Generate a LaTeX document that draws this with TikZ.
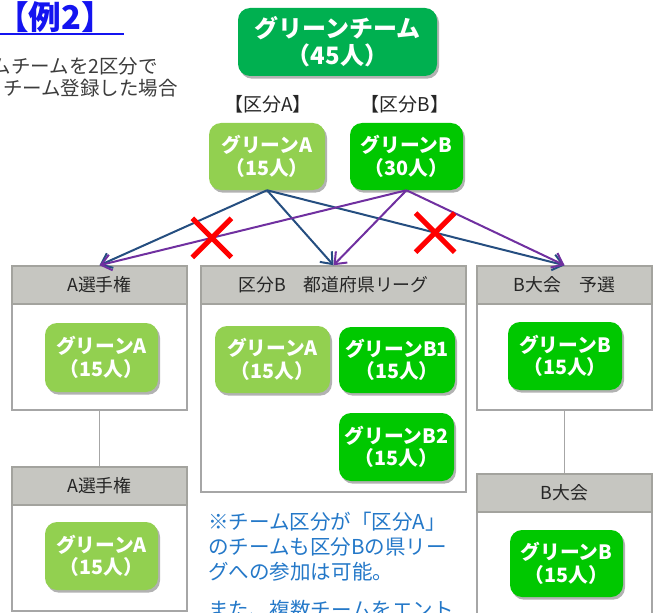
\documentclass[tikz,border=0pt]{standalone}
\usepackage{fontspec}
\setmainfont{Noto Sans CJK JP}
\usetikzlibrary{arrows.meta,shadows,shapes.misc}
\definecolor{gTeam}{HTML}{00B050}
\definecolor{gAc}{HTML}{92D050}
\definecolor{gBc}{HTML}{00C800}
\definecolor{lnBlue}{HTML}{254E80}
\definecolor{lnPurple}{HTML}{7030A0}
\definecolor{hdrFill}{HTML}{C6C6C1}
\definecolor{hdrDraw}{HTML}{A3A39E}
\definecolor{boxDraw}{HTML}{A6A6A6}
\definecolor{noteBlue}{HTML}{2478C8}
\definecolor{titleBlue}{HTML}{1414F0}
\definecolor{txtDark}{HTML}{262626}
\newcommand\fs[2]{\fontsize{#1}{#2}\selectfont}
\begin{document}
\begin{tikzpicture}[x=0.75pt,y=-0.75pt,
  sz/.style 2 args={minimum width=#1*0.75pt,minimum height=#2*0.75pt},
  grn/.style={rounded corners=9pt, text=white, font=\fs{14.8pt}{16.9pt}\bfseries, align=center, inner sep=0pt,
    drop shadow={shadow xshift=1.5pt,shadow yshift=-2pt,opacity=0.3,fill=black}, sz={114}{68}},
  grnA/.style={grn, fill=gAc},
  grnB/.style={grn, fill=gBc},
  hdr/.style={draw=hdrDraw, fill=hdrFill, line width=1.1pt, text=txtDark, font=\fs{13.4pt}{15pt}, inner sep=0pt, sz={175}{38}},
  bodybox/.style={draw=boxDraw, fill=white, line width=1.1pt, inner sep=0pt},
  arrA/.style={draw=lnBlue, line width=1.5pt, -{Straight Barb[length=7.5pt,width=12pt]}},
  arrB/.style={draw=lnPurple, line width=1.5pt, -{Straight Barb[length=7.5pt,width=12pt]}},
  xmark/.style={cross out, draw=red, line width=3.8pt, sz={34}{34}, inner sep=0pt},
  link/.style={draw=boxDraw, line width=1.1pt},
  lbl/.style={text=txtDark, font=\fs{14.25pt}{16pt}, inner sep=0pt},
  bodytxt/.style={text=txtDark!90!white, font=\fs{14.6pt}{16pt}, inner sep=0pt, anchor=base east},
  note/.style={text=noteBlue, font=\fs{15.4pt}{18pt}, inner sep=0pt, anchor=base west}
]
\useasboundingbox (0,0) rectangle (660,613);
\clip (0,0) rectangle (660,613);

% title
\node[anchor=base west, inner sep=0pt, text=titleBlue, font=\fs{24.5pt}{26pt}\bfseries] (title) at (-4,30) {【例2】};
\coordinate (ul1) at (0,34);
\coordinate (ul2) at (124,34);
\draw[titleBlue, line width=1.5pt] (ul1) -- (ul2);
\node[bodytxt] (intro1) at (158,73.5) {ムチームを2区分で};
\node[bodytxt] (intro2) at (178,95.5) {チーム登録した場合};

% top team
\node[grn, fill=gTeam, sz={199}{68}, font=\fs{18pt}{20.25pt}\bfseries] (team) at (337.5,42) {グリーンチーム\\（45人）};
\node[lbl] (labA) at (268,104.5) {【区分A】};
\node[lbl] (labB) at (405,104.5) {【区分B】};
\node[grnA, sz={116}{67}] (gA) at (267,156.5) {グリーンA\\（15人）};
\node[grnB, sz={113}{67}] (gB) at (406.5,156.5) {グリーンB\\（30人）};

% column A
\node[bodybox, sz={175}{106}] (bA1) at (99.5,357) {};
\node[hdr] (hA1) at (99.5,285) {A選手権};
\node[grnA, sz={113}{69}] (gA1) at (101.5,357.5) {グリーンA\\（15人）};
\node[bodybox, sz={175}{106}] (bA2) at (99.5,558) {};
\node[hdr] (hA2) at (99.5,486) {A選手権};
\node[grnA, sz={113}{68}] (gA2) at (101.5,556) {グリーンA\\（15人）};
\draw[link] (bA1.south) -- (hA2.north);

% column B league
\node[bodybox, sz={265}{188}] (bB) at (333.5,398) {};
\node[hdr, sz={265}{38}] (hB) at (333.5,285) {区分B　都道府県リーグ};
\node[grnA, sz={115}{67}] (gA3) at (272.5,359.5) {グリーンA\\（15人）};
\node[grnB, sz={116}{66}] (gB1) at (397,360) {グリーンB1\\（15人）};
\node[grnB, sz={115}{68}] (gB2) at (396.5,447) {グリーンB2\\（15人）};

% column B tournament
\node[bodybox, sz={175}{106}] (bC1) at (564.5,357) {};
\node[hdr] (hC1) at (564.5,285) {B大会　予選};
\node[grnB, sz={114}{68}] (gB3) at (565,356) {グリーンB\\（15人）};
\node[bodybox, sz={175}{128}] (bC2) at (564.5,576) {};
\node[hdr] (hC2) at (564.5,493) {B大会};
\node[grnB, sz={113}{67}] (gB4) at (566.5,563.5) {グリーンB\\（15人）};
\draw[link] (bC1.south) -- (hC2.north);

% arrows
\draw[arrA] (gA.south) -- (hA1.north);
\draw[arrA] (gA.south) -- (hB.north);
\draw[arrA] (gA.south) -- (hC1.north);
\draw[arrB] (gB.south) -- (hA1.north);
\draw[arrB] (gB.south) -- (hB.north);
\draw[arrB] (gB.south) -- (hC1.north);
\path (gB.south) -- coordinate[pos=0.634] (cx1) (hA1.north);
\path (gA.south) -- coordinate[pos=0.565] (cx2) (hC1.north);
\node[xmark] (x1) at (cx1) {};
\node[xmark] (x2) at (cx2) {};

% note
\node[note] (n1) at (208,529.5) {※チーム区分が「区分A」};
\node[note] (n2) at (208,554.5) {のチームも区分Bの県リー};
\node[note] (n3) at (208,579.5) {グへの参加は可能。};
\node[note] (n4) at (208,617) {また、複数チームをエント};
\end{tikzpicture}
\end{document}
